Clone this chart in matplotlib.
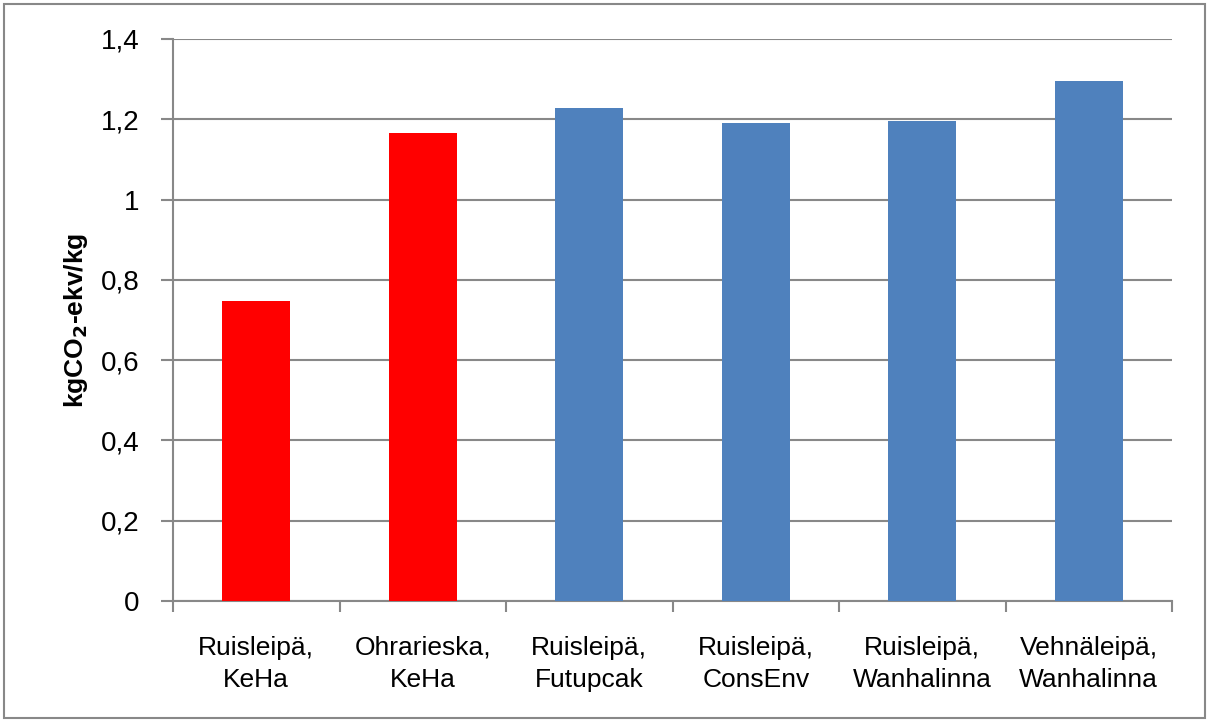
import numpy as np
import matplotlib.pyplot as plt
from matplotlib.patches import Rectangle

# Data
labels = ["Ruisleipä,\nKeHa", "Ohrarieska,\nKeHa", "Ruisleipä,\nFutupcak",
          "Ruisleipä,\nConsEnv", "Ruisleipä,\nWanhalinna", "Vehnäleipä,\nWanhalinna"]
values = [0.747, 1.166, 1.228, 1.191, 1.196, 1.295]
colors = ["#FF0000", "#FF0000", "#4F81BD", "#4F81BD", "#4F81BD", "#4F81BD"]
yticks = [0, 0.2, 0.4, 0.6, 0.8, 1.0, 1.2, 1.4]
ytick_labels = ["0", "0,2", "0,4", "0,6", "0,8", "1", "1,2", "1,4"]

plt.rcParams['font.family'] = ['Liberation Sans', 'DejaVu Sans']
gray = "#888888"

fig = plt.figure(figsize=(12.09, 7.22), dpi=100)
ax = fig.add_axes([173/1209, 1 - 601/722, (1172-173)/1209, (601-39)/722])

x = np.arange(len(values))
ax.bar(x, values, width=0.41, color=colors, zorder=3)

ax.set_xlim(-0.5, len(values) - 0.5)
ax.set_ylim(0, 1.4)
ax.set_yticks(yticks)
ax.set_yticklabels(ytick_labels, fontsize=20)
ax.yaxis.grid(True, color=gray, linewidth=1.5, zorder=0)

ax.set_xticks(x)
ax.set_xticklabels(labels, fontsize=19, linespacing=1.45)
ax.set_xticks(np.arange(-0.5, len(values), 1.0), minor=True)
ax.tick_params(axis='x', which='major', length=0, pad=25)
ax.tick_params(axis='x', which='minor', length=8, width=1.5, color=gray)
ax.tick_params(axis='y', length=9, width=1.5, color=gray, pad=15)

for s in ['top', 'right']:
    ax.spines[s].set_visible(False)
for s in ['left', 'bottom']:
    ax.spines[s].set_color(gray)
    ax.spines[s].set_linewidth(1.5)

ax.set_ylabel("kgCO$_\\mathbf{2}$-ekv/kg", fontsize=19, fontweight='bold', labelpad=8)

fig.patches.append(Rectangle((4/1209, 4/722), 1201/1209, 714/722, transform=fig.transFigure,
                             fill=False, edgecolor=gray, linewidth=1.5))

plt.savefig("out.png")
